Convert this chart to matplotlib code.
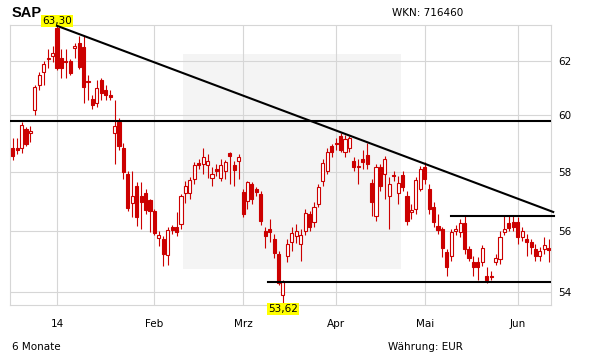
import numpy as np
import matplotlib
matplotlib.use("Agg")
import matplotlib.pyplot as plt
from matplotlib.patches import Rectangle
from matplotlib.ticker import NullLocator, NullFormatter

# daily candles, SAP, 6 months (trading-day index)
opens = [58.86, 58.86, 58.83, 59.52, 59.38, 60.18, 61.09, 61.56, 62.04, 62.18,
         63.20, 62.11, 62.00, 61.97, 62.48, 62.66, 62.51, 61.24, 60.58, 60.44,
         61.27, 60.91, 60.73, 59.38, 59.76, 58.86, 57.93, 56.95, 57.53, 57.19,
         57.29, 57.05, 56.68, 55.77, 55.73, 55.20, 56.14, 56.14, 56.24, 57.29,
         57.29, 57.76, 58.31, 58.28, 58.24, 57.80, 58.10, 57.80, 58.03, 58.66,
         58.24, 58.38, 57.32, 57.02, 57.59, 57.42, 57.25, 56.00, 56.07, 55.73,
         55.23, 53.90, 55.17, 55.63, 55.83, 55.57, 56.00, 56.58, 56.31, 56.92,
         57.70, 58.03, 58.90, 59.03, 59.28, 58.69, 58.86, 58.38, 58.21, 58.45,
         58.59, 57.63, 56.51, 58.17, 57.93, 57.19, 57.90, 57.29, 57.90, 57.19,
         56.64, 56.75, 57.42, 58.17, 57.42, 56.81, 56.17, 56.07, 55.30, 55.17,
         56.00, 55.97, 56.27, 55.40, 54.97, 54.97, 54.97, 54.50, 54.53, 54.97,
         55.07, 55.97, 56.27, 56.31, 56.31, 55.80, 55.73, 55.63, 55.40, 55.17,
         55.40, 55.43]
highs = [59.21, 59.21, 59.76, 59.59, 59.62, 61.09, 61.56, 62.00, 62.44, 62.55,
         63.30, 62.44, 62.44, 62.07, 62.66, 62.91, 62.91, 61.46, 60.73, 61.27,
         61.35, 61.09, 60.91, 60.55, 59.90, 59.03, 58.03, 58.03, 57.66, 57.66,
         57.42, 57.08, 56.75, 56.00, 55.83, 56.14, 56.20, 56.64, 57.25, 57.70,
         57.83, 58.35, 58.45, 58.86, 58.62, 58.17, 58.28, 58.45, 58.41, 58.72,
         58.38, 58.62, 57.42, 57.70, 57.66, 57.49, 57.36, 56.14, 56.41, 55.90,
         55.33, 54.40, 55.73, 56.14, 56.24, 56.07, 56.75, 56.68, 56.98, 57.59,
         58.45, 58.86, 59.00, 59.21, 59.38, 59.31, 59.28, 58.52, 58.45, 58.79,
         59.03, 57.76, 58.28, 58.28, 58.55, 57.83, 58.03, 57.86, 58.03, 57.36,
         56.92, 57.83, 58.21, 58.35, 57.59, 56.98, 56.58, 56.14, 55.40, 56.07,
         56.20, 56.41, 56.51, 55.50, 55.17, 55.13, 55.53, 54.80, 54.67, 55.23,
         56.00, 56.51, 56.51, 56.51, 56.47, 56.14, 55.90, 55.73, 55.57, 55.47,
         55.80, 55.73]
lows = [58.41, 58.62, 58.66, 58.90, 59.07, 60.00, 60.91, 61.09, 61.71, 61.95,
        61.64, 61.35, 61.35, 61.46, 62.11, 61.70, 60.44, 60.55, 60.25, 60.30,
        60.55, 60.55, 60.55, 58.28, 58.79, 57.76, 56.68, 56.47, 56.17, 56.07,
        56.58, 55.97, 55.87, 55.50, 54.83, 54.87, 55.90, 55.83, 56.07, 56.95,
        57.08, 57.59, 58.10, 57.93, 57.80, 57.53, 57.86, 57.70, 57.76, 57.59,
        57.53, 57.76, 56.47, 56.75, 56.92, 57.19, 56.20, 55.43, 55.63, 55.10,
        54.23, 53.62, 54.97, 55.33, 55.60, 55.00, 55.87, 56.00, 56.14, 56.81,
        57.53, 57.93, 58.52, 58.79, 58.72, 58.52, 58.72, 58.03, 57.59, 58.10,
        58.10, 56.51, 56.34, 57.36, 57.08, 56.07, 57.70, 56.92, 57.36, 56.20,
        56.41, 56.58, 57.36, 57.59, 56.58, 56.14, 55.90, 55.13, 54.50, 55.00,
        55.87, 55.80, 55.23, 55.00, 54.50, 54.40, 54.83, 54.30, 54.37, 54.87,
        54.90, 55.87, 56.00, 56.00, 55.57, 55.67, 55.17, 55.23, 55.00, 55.00,
        55.23, 54.97]
closes = [58.55, 58.79, 59.66, 59.00, 59.45, 61.02, 61.46, 61.86, 62.11, 62.29,
          61.71, 61.71, 61.93, 61.53, 62.55, 61.75, 61.02, 61.20, 60.36, 60.98,
          60.80, 60.73, 60.66, 59.62, 58.93, 58.00, 56.78, 57.19, 56.47, 56.98,
          56.71, 56.68, 55.93, 55.87, 55.23, 56.03, 56.03, 55.97, 57.19, 57.53,
          57.73, 58.24, 58.24, 58.52, 58.38, 57.93, 58.03, 58.24, 58.35, 58.55,
          58.07, 58.52, 56.58, 57.66, 57.08, 57.32, 56.34, 55.83, 55.97, 55.27,
          54.30, 54.33, 55.57, 55.93, 56.00, 55.87, 56.61, 56.14, 56.81, 57.49,
          58.31, 58.72, 58.72, 58.97, 58.79, 59.17, 59.21, 58.17, 58.17, 58.35,
          58.28, 56.98, 58.17, 57.53, 58.45, 57.59, 57.86, 57.63, 57.49, 56.34,
          56.71, 57.73, 58.10, 57.76, 56.75, 56.31, 56.03, 55.43, 54.80, 55.97,
          56.07, 56.27, 55.40, 55.10, 54.80, 54.80, 55.43, 54.40, 54.47, 55.10,
          55.80, 56.07, 56.10, 56.14, 55.80, 56.00, 55.63, 55.47, 55.17, 55.33,
          55.53, 55.37]

month_pos = [10, 32, 52, 73, 93, 114]
month_labels = ["14", "Feb", "Mrz", "Apr", "Mai", "Jun"]
y_ticks = [54, 56, 58, 60, 62]

# drawn analysis lines (index, price)
trend_x = [10, 122]
trend_y = [63.30, 56.64]
resist_top = 59.79
support = 54.32
support_x = [57.6, 121.5]
resist_box = 56.52
resist_box_x = [98.9, 122.2]

red = "#cc0000"
grid_c = "#d6d6d6"

fig = plt.figure(figsize=(6.11, 3.64), dpi=100)
ax = fig.add_axes([10 / 611, 59 / 364, 541 / 611, 280 / 364])

ax.set_yscale("log")
ax.set_xlim(-0.6, 121.5)
ax.set_ylim(53.58, 63.33)

# watermark box
ax.add_patch(Rectangle((38.4, 54.73), 87.7 - 38.4, 62.26 - 54.73,
                       facecolor="#f4f4f4", edgecolor="none", zorder=0))

o = np.array(opens)
h = np.array(highs)
l = np.array(lows)
c = np.array(closes)
x = np.arange(len(o))
up = c >= o

ax.vlines(x, l, h, color=red, lw=0.8, zorder=2)
bottom = np.minimum(o, c)
height = np.maximum(np.abs(c - o), 0.03)
ax.bar(x[up], height[up], bottom=bottom[up], width=0.7, facecolor="white",
       edgecolor=red, linewidth=0.8, zorder=3)
ax.bar(x[~up], height[~up], bottom=bottom[~up], width=0.7, facecolor=red,
       edgecolor=red, linewidth=0.8, zorder=3)

# analysis lines
ax.plot(trend_x, trend_y, color="black", lw=1.5, zorder=4, clip_on=False)
ax.plot([-0.6, 121.5], [resist_top, resist_top], color="black", lw=1.5, zorder=4)
ax.plot(support_x, [support, support], color="black", lw=1.5, zorder=4)
ax.plot(resist_box_x, [resist_box, resist_box], color="black", lw=1.5, zorder=4,
        clip_on=False)

# axes styling
ax.yaxis.tick_right()
ax.set_yticks(y_ticks)
ax.set_yticklabels([str(v) for v in y_ticks])
ax.yaxis.set_minor_locator(NullLocator())
ax.yaxis.set_minor_formatter(NullFormatter())
ax.set_xticks(month_pos)
ax.set_xticklabels(month_labels)
ax.tick_params(axis="both", length=0, labelsize=7.5, colors="black")
ax.tick_params(axis="x", pad=10)
ax.tick_params(axis="y", pad=5)
ax.grid(True, color=grid_c, lw=0.8)
ax.set_axisbelow(True)
for s in ax.spines.values():
    s.set_color(grid_c)
    s.set_linewidth(0.8)

# high / low labels
ax.text(10, 63.30, "63,30", ha="center", va="bottom", fontsize=7.5,
        bbox=dict(boxstyle="square,pad=0.12", fc="#ffff00", ec="none"))
ax.text(61, 53.62, "53,62", ha="center", va="top", fontsize=7.5,
        bbox=dict(boxstyle="square,pad=0.12", fc="#ffff00", ec="none"))

fig.text(12 / 611, 1 - 13 / 364, "SAP", fontsize=10.5, fontweight="bold",
         family="Liberation Sans", va="center", ha="left")
fig.text(392 / 611, 1 - 13 / 364, "WKN: 716460", fontsize=7.5, va="center", ha="left")
fig.text(12 / 611, 1 - 347 / 364, "6 Monate", fontsize=7.5, va="center", ha="left")
fig.text(388 / 611, 1 - 347 / 364, "Währung: EUR", fontsize=7.5, va="center", ha="left")

fig.savefig("out.png", dpi=100)
